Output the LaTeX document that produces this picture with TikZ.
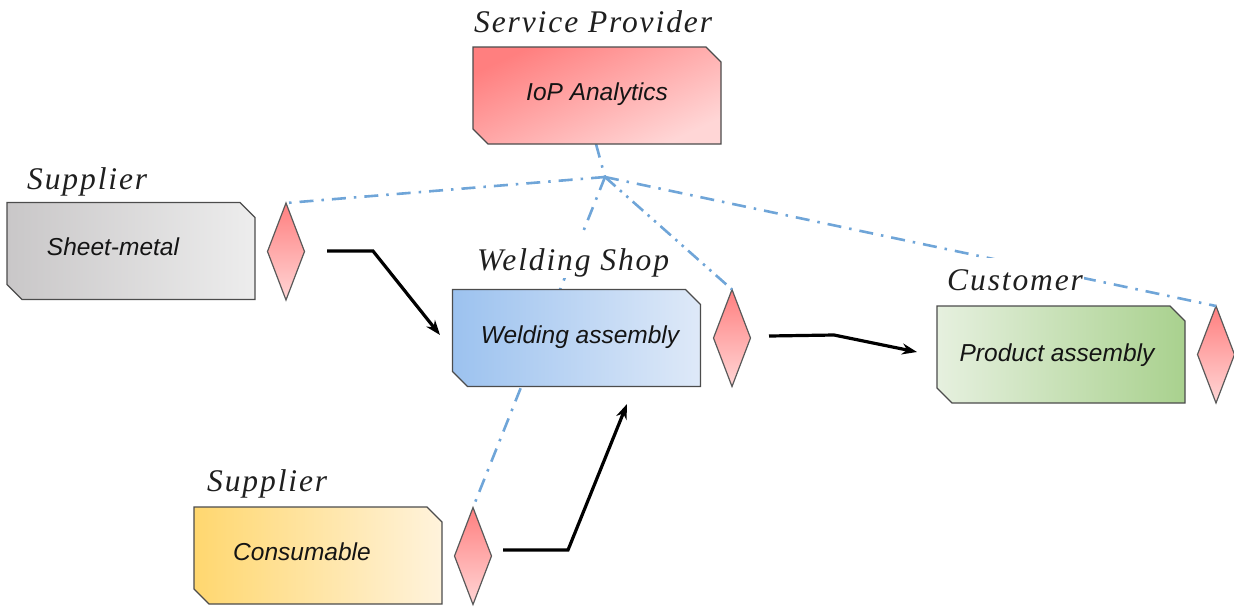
\documentclass[tikz,border=0pt]{standalone}
\usepackage{fontspec}
\setmainfont{Liberation Sans}
\newfontfamily\rolefont[LetterSpace=6,ItalicFont=* Italic]{Liberation Serif}
\usetikzlibrary{shapes.geometric,arrows.meta}
\makeatletter
\pgfdeclareshape{notchbox}{%
  \inheritsavedanchors[from=rectangle]
  \inheritanchorborder[from=rectangle]
  \inheritanchor[from=rectangle]{center}
  \inheritanchor[from=rectangle]{north}
  \inheritanchor[from=rectangle]{south}
  \inheritanchor[from=rectangle]{east}
  \inheritanchor[from=rectangle]{west}
  \backgroundpath{%
    \southwest \pgf@xa=\pgf@x \pgf@ya=\pgf@y
    \northeast \pgf@xb=\pgf@x \pgf@yb=\pgf@y
    \pgfpathmoveto{\pgfqpoint{\pgf@xa}{\pgf@yb}}%
    \pgfpathlineto{\pgfpoint{\pgf@xb-15pt}{\pgf@yb}}%
    \pgfpathlineto{\pgfpoint{\pgf@xb}{\pgf@yb-15pt}}%
    \pgfpathlineto{\pgfqpoint{\pgf@xb}{\pgf@ya}}%
    \pgfpathlineto{\pgfpoint{\pgf@xa+15pt}{\pgf@ya}}%
    \pgfpathlineto{\pgfpoint{\pgf@xa}{\pgf@ya+15pt}}%
    \pgfpathclose
  }%
}
\makeatother
\definecolor{linkblue}{HTML}{6FA5D8}
\definecolor{redA}{HTML}{FF7F7F}\definecolor{redB}{HTML}{FFD6D6}
\definecolor{greyA}{HTML}{C9C7C8}\definecolor{greyB}{HTML}{EDEDED}
\definecolor{blueA}{HTML}{9CC2EF}\definecolor{blueB}{HTML}{DEE9F8}
\definecolor{greenA}{HTML}{E6F0DF}\definecolor{greenB}{HTML}{A9D18E}
\definecolor{yellowA}{HTML}{FFD76F}\definecolor{yellowB}{HTML}{FFF3DC}
\tikzset{
  x=1pt,y=-1pt,
  unitbox/.style={notchbox,minimum width=248pt,minimum height=97pt,inner sep=0pt,outer sep=0pt,
    draw=black!70,line width=1.3pt},
  gate/.style={diamond,aspect=0.38,minimum width=37pt,minimum height=97pt,inner sep=0pt,outer sep=0pt,
    draw=black!65,line width=1.2pt,top color=redA,bottom color=redB},
  unittext/.style={font=\fontsize{24.5}{27}\selectfont\itshape,inner sep=0pt,text=black!92},
  rolelabel/.style={font=\rolefont\fontsize{31.5}{36}\selectfont\itshape,inner sep=0pt,text=black!88},
  rolemask/.style={rolelabel,fill=white,inner xsep=1pt},
  infolink/.style={draw=linkblue,line width=2.6pt,dash pattern=on 14pt off 8pt on 2.5pt off 8pt},
  infolinktwo/.style={draw=linkblue,line width=2.6pt,dash pattern=on 14pt off 6pt on 2.5pt off 6pt on 2.5pt off 6pt},
  flow/.style={draw=black,line width=3.2pt,line join=miter,-{Stealth[length=15pt,width=11pt]}},
}
\begin{document}
\begin{tikzpicture}
\useasboundingbox (0,0) rectangle (1234,606);
% junction and free connector ends
\coordinate (hub) at (605,177);
\coordinate (f1s) at (327,251); \coordinate (f1m) at (373,251); \coordinate (f1e) at (440,335);
\coordinate (f2s) at (769,336); \coordinate (f2m) at (834,335); \coordinate (f2e) at (917,352);
\coordinate (f3s) at (503,550); \coordinate (f3m) at (568,550); \coordinate (f3e) at (627,404);
% gates first, so that the links can be named from them
\node[gate] (g1) at (286,251.5) {};
\node[gate] (g2) at (732,338) {};
\node[gate] (g3) at (1216,354.5) {};
\node[gate] (g4) at (473,556) {};
\coordinate (iopfoot) at (596,144);
% information links
\draw[infolink] (iopfoot) -- (hub);
\draw[infolink] (hub) -- (g1.north);
\draw[infolink] (hub) -- (g4.north);
\draw[infolink] (hub) -- (g3.north);
\draw[infolinktwo] (hub) -- (g2.north);
% role labels mask the links behind them
\node[rolelabel,anchor=base west] (lsp) at (474,32) {Service Provider};
\node[rolelabel,anchor=base west] (ls1) at (27,189) {Supplier};
\node[rolemask,anchor=base west,text depth=8pt,text height=34pt] (lws) at (476,270) {Welding Shop};
\node[rolemask,anchor=base west,text depth=8pt,text height=32pt] (lcu) at (946,290) {Customer};
\node[rolelabel,anchor=base west] (ls2) at (207,491) {Supplier};
% units
\node[unitbox,top color=redA,bottom color=redB,shading angle=25] (iop) at (597,95.5) {};
\node[unitbox,left color=greyA,right color=greyB] (sm) at (131,251) {};
\node[unitbox,left color=blueA,right color=blueB] (ws) at (576.5,338) {};
\node[unitbox,left color=greenA,right color=greenB] (pa) at (1061,354.5) {};
\node[unitbox,left color=yellowA,right color=yellowB] (co) at (318,555.5) {};
\node[unittext] (tiop) at (597,94) {IoP Analytics};
\node[unittext] (tsm) at (113,247) {Sheet-metal};
\node[unittext] (tws) at (580,337) {Welding assembly};
\node[unittext] (tpa) at (1057,355) {Product assembly};
\node[unittext] (tco) at (302,552) {Consumable};
% material flows
\draw[flow] (f1s) -- (f1m) -- (f1e);
\draw[flow] (f2s) -- (f2m) -- (f2e);
\draw[flow] (f3s) -- (f3m) -- (f3e);
\end{tikzpicture}
\end{document}
